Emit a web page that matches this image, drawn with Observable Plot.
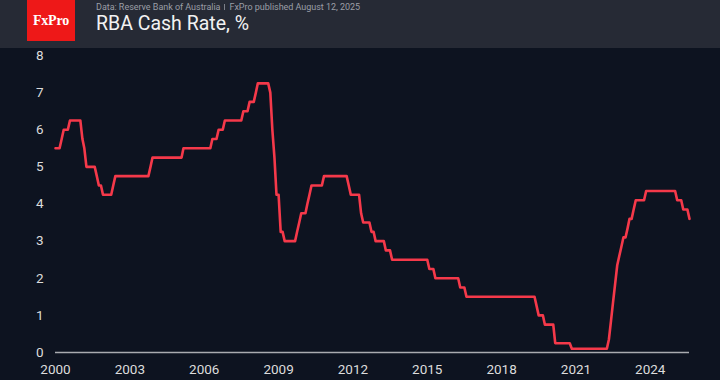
<!DOCTYPE html>
<html>
<head>
<meta charset="utf-8">
<script src="https://cdn.jsdelivr.net/npm/d3@7"></script>
<script src="https://cdn.jsdelivr.net/npm/@observablehq/plot@0.6"></script>
<style>
  html, body { margin: 0; padding: 0; background: #0d1320; width: 720px; height: 380px; overflow: hidden; }
  #header { position: relative; height: 48px; background: #262a35; font-family: Roboto, "Noto Sans", sans-serif; }
  #logo { position: absolute; left: 27px; top: 0; width: 48px; height: 41px; background: #ee1818;
          color: #fff; font-family: "Liberation Serif", "DejaVu Serif", serif; font-size: 14px; font-weight: 600;
          display: flex; align-items: center; justify-content: center; letter-spacing: -0.2px; }
  #source { position: absolute; left: 96px; top: 1.5px; font-size: 9px; color: #9b9ea6; white-space: nowrap; letter-spacing: -0.03px; }
  #source .sep { display: inline-block; width: 1px; height: 6px; background: #7d8089; margin: 0 4px 0 4px; vertical-align: 0px; }
  #title { position: absolute; left: 96px; top: 11.5px; font-size: 19.5px; color: #f2f2f2; white-space: nowrap; }
  #chart { display: block; }
</style>
</head>
<body>
<div id="header">
  <div id="logo">FxPro</div>
  <div id="source">Data: Reserve Bank of Australia<span class="sep"></span>FxPro published August 12, 2025</div>
  <div id="title">RBA Cash Rate, %</div>
</div>
<div id="chart"></div>
<script>
// Month-end RBA cash rate, %, one value per month from Jan 2000 to Aug 2025
const startYear = 2000;
const monthlyRates = [
  5.5, 5.5, 5.5, 5.75, 6.0, 6.0, 6.0, 6.25, 6.25, 6.25, 6.25, 6.25,          // 2000
  6.25, 5.75, 5.5, 5.0, 5.0, 5.0, 5.0, 5.0, 4.75, 4.5, 4.5, 4.25,           // 2001
  4.25, 4.25, 4.25, 4.25, 4.5, 4.75, 4.75, 4.75, 4.75, 4.75, 4.75, 4.75,    // 2002
  4.75, 4.75, 4.75, 4.75, 4.75, 4.75, 4.75, 4.75, 4.75, 4.75, 5.0, 5.25,    // 2003
  5.25, 5.25, 5.25, 5.25, 5.25, 5.25, 5.25, 5.25, 5.25, 5.25, 5.25, 5.25,   // 2004
  5.25, 5.25, 5.5, 5.5, 5.5, 5.5, 5.5, 5.5, 5.5, 5.5, 5.5, 5.5,             // 2005
  5.5, 5.5, 5.5, 5.5, 5.75, 5.75, 5.75, 6.0, 6.0, 6.0, 6.25, 6.25,          // 2006
  6.25, 6.25, 6.25, 6.25, 6.25, 6.25, 6.25, 6.5, 6.5, 6.5, 6.75, 6.75,      // 2007
  6.75, 7.0, 7.25, 7.25, 7.25, 7.25, 7.25, 7.25, 7.0, 6.0, 5.25, 4.25,      // 2008
  4.25, 3.25, 3.25, 3.0, 3.0, 3.0, 3.0, 3.0, 3.0, 3.25, 3.5, 3.75,          // 2009
  3.75, 3.75, 4.0, 4.25, 4.5, 4.5, 4.5, 4.5, 4.5, 4.5, 4.75, 4.75,          // 2010
  4.75, 4.75, 4.75, 4.75, 4.75, 4.75, 4.75, 4.75, 4.75, 4.75, 4.5, 4.25,    // 2011
  4.25, 4.25, 4.25, 4.25, 3.75, 3.5, 3.5, 3.5, 3.5, 3.25, 3.25, 3.0,        // 2012
  3.0, 3.0, 3.0, 3.0, 2.75, 2.75, 2.75, 2.5, 2.5, 2.5, 2.5, 2.5,            // 2013
  2.5, 2.5, 2.5, 2.5, 2.5, 2.5, 2.5, 2.5, 2.5, 2.5, 2.5, 2.5,               // 2014
  2.5, 2.25, 2.25, 2.25, 2.0, 2.0, 2.0, 2.0, 2.0, 2.0, 2.0, 2.0,            // 2015
  2.0, 2.0, 2.0, 2.0, 1.75, 1.75, 1.75, 1.5, 1.5, 1.5, 1.5, 1.5,            // 2016
  1.5, 1.5, 1.5, 1.5, 1.5, 1.5, 1.5, 1.5, 1.5, 1.5, 1.5, 1.5,               // 2017
  1.5, 1.5, 1.5, 1.5, 1.5, 1.5, 1.5, 1.5, 1.5, 1.5, 1.5, 1.5,               // 2018
  1.5, 1.5, 1.5, 1.5, 1.5, 1.25, 1.0, 1.0, 1.0, 0.75, 0.75, 0.75,           // 2019
  0.75, 0.75, 0.25, 0.25, 0.25, 0.25, 0.25, 0.25, 0.25, 0.25, 0.1, 0.1,     // 2020
  0.1, 0.1, 0.1, 0.1, 0.1, 0.1, 0.1, 0.1, 0.1, 0.1, 0.1, 0.1,               // 2021
  0.1, 0.1, 0.1, 0.1, 0.35, 0.85, 1.35, 1.85, 2.35, 2.6, 2.85, 3.1,         // 2022
  3.1, 3.35, 3.6, 3.6, 3.85, 4.1, 4.1, 4.1, 4.1, 4.1, 4.35, 4.35,           // 2023
  4.35, 4.35, 4.35, 4.35, 4.35, 4.35, 4.35, 4.35, 4.35, 4.35, 4.35, 4.35,   // 2024
  4.35, 4.1, 4.1, 4.1, 3.85, 3.85, 3.85, 3.6                                // 2025
];
const xTickYears = [2000, 2003, 2006, 2009, 2012, 2015, 2018, 2021, 2024];
const yTicks = [0, 1, 2, 3, 4, 5, 6, 7, 8];
const yDomain = [0, 8];

const rows = monthlyRates.map((v, i) => ({ date: new Date(startYear, i, 1), rate: v }));

const chart = Plot.plot({
  width: 720,
  height: 332,
  marginTop: 7,
  marginBottom: 28,
  marginLeft: 55,
  marginRight: 31,
  style: { background: "#0d1320", color: "#dcdcdc", fontFamily: "Roboto, 'Noto Sans', sans-serif", fontSize: "13.5px" },
  x: { type: "utc", domain: [rows[0].date, rows[rows.length - 1].date], label: null },
  y: { domain: yDomain, label: null },
  marks: [
    Plot.axisX({ ticks: xTickYears.map(y => new Date(y, 0, 1)), tickFormat: d => String(d.getFullYear()), tickSize: 0, tickPadding: 12, fill: "#dcdcdc" }),
    Plot.axisY({ ticks: yTicks, tickSize: 0, tickPadding: 12, fill: "#dcdcdc" }),
    Plot.ruleY([0], { stroke: "#a9abb0", strokeWidth: 1.3 }),
    Plot.line(rows, { x: "date", y: "rate", stroke: "#f5394a", strokeWidth: 2.6, strokeLinejoin: "round", strokeLinecap: "round" })
  ]
});
document.getElementById("chart").appendChild(chart);
</script>
</body>
</html>
